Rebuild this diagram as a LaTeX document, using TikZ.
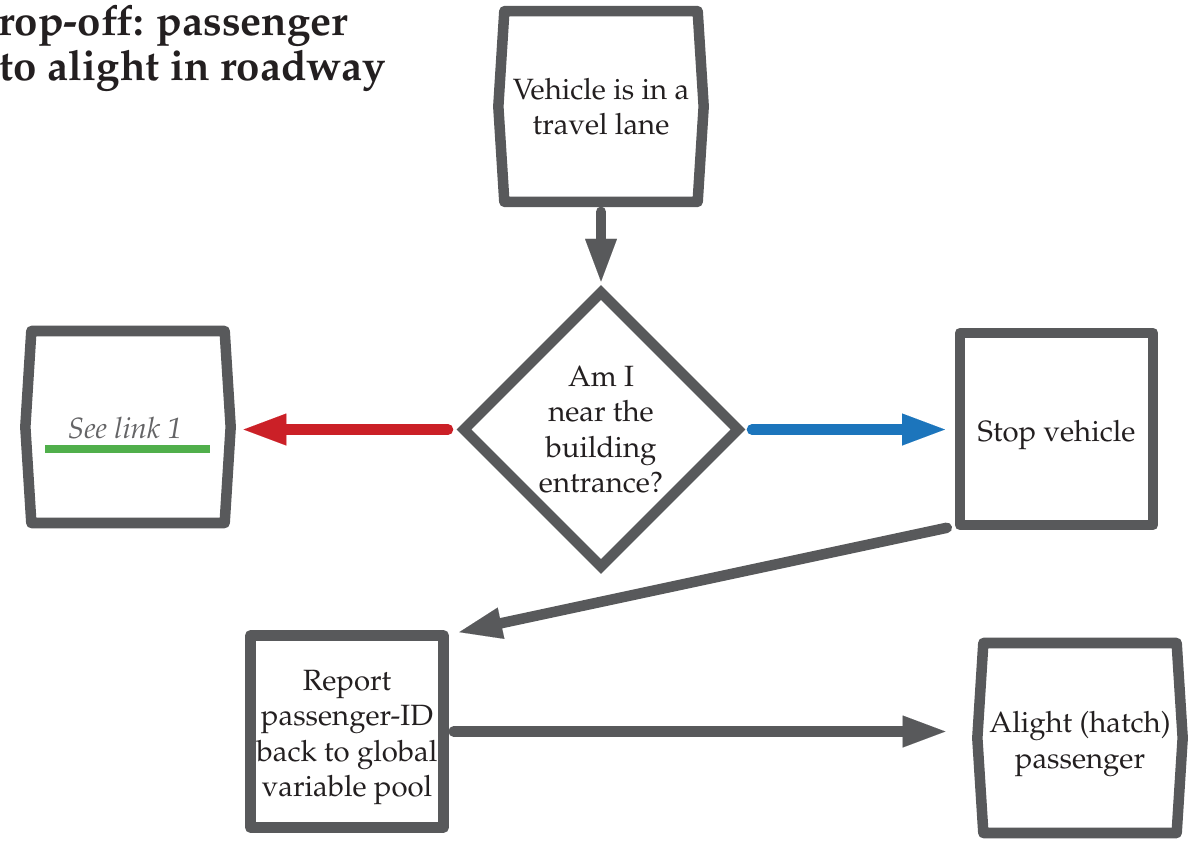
\documentclass[tikz,border=0pt]{standalone}
\usepackage[T1]{fontenc}
\usepackage{mathpazo}
\usetikzlibrary{shapes.geometric,arrows.meta,calc}
\definecolor{ink}{RGB}{35,31,32}
\definecolor{edgegrey}{RGB}{88,89,91}
\definecolor{linkred}{RGB}{203,32,39}
\definecolor{linkblue}{RGB}{28,117,188}
\definecolor{linkgreen}{RGB}{80,175,75}
\definecolor{linkgrey}{RGB}{100,100,102}
\tikzset{
  every node/.style={inner sep=0pt, outer sep=0pt, text=ink, align=center,
    font=\fontsize{22}{26.5}\selectfont},
  boxline/.style={draw=edgegrey, line width=7.9pt, line join=round},
  stepbox/.style={rectangle, minimum width=145pt, minimum height=144pt},
  plainbox/.style={stepbox, boxline},
  lowtext/.style={label={[yshift=-4.5pt]center:{#1}}},
  choice/.style={diamond, aspect=1, minimum width=205.5pt, minimum height=205.5pt,
    draw=edgegrey, line width=7.9pt, line join=miter},
  flow/.style={draw=edgegrey, line width=7.9pt, line cap=round,
    -{Triangle[length=32pt,width=24pt,line width=0.01pt]}},
  titletext/.style={font=\fontsize{31.5}{36}\selectfont\bfseries, anchor=base east},
}
\newcommand{\bulgeoutline}[1]{%
  \draw[boxline] (#1.north west) -- ([xshift=-4.5pt]#1.west) -- (#1.south west)
    -- (#1.south east) -- ([xshift=4.5pt]#1.east) -- (#1.north east) -- cycle;}
\begin{document}
\begin{tikzpicture}[x=0.75pt,y=-0.75pt]
\useasboundingbox (0,0) rectangle (1189,840);

% title (cut off at the left edge)
\node[titletext] (t1) at (348,35) {rop-off: passenger};
\node[titletext] (t2) at (386,80) {to alight in roadway};

% nodes
\node[stepbox, minimum height=143pt] (lane) at (601,106.5) {Vehicle is in a\\travel lane};
\bulgeoutline{lane}

\node[choice] (near) at (601,429.5) {Am I\\near the\\building\\entrance?};

\node[stepbox] (seelink) at (128,427) {};
\bulgeoutline{seelink}
\node[anchor=base, text=linkgrey, font=\fontsize{22}{26.5}\selectfont\itshape] (seetext) at (125,438) {See link 1};
\draw[linkgreen, line width=6pt] (45,449) -- (210,449);

\node[plainbox, lowtext={Stop vehicle}] (stop) at (1056.5,429) {};

\node[plainbox, lowtext={Report\\passenger-ID\\back to global\\variable pool}] (report) at (347,731.5) {};

\node[stepbox, minimum height=142.5pt, lowtext={Alight (hatch)\\passenger}] (alight) at (1080,738) {};
\bulgeoutline{alight}

% connectors
\coordinate (redend) at (near.west -| seelink.east);
\coordinate (blueend) at (near.east -| stop.west);
\coordinate (alightin) at (report.east -| alight.west);
\draw[flow, shorten <=7.5pt, shorten >=8.25pt] (lane.south) -- (near.north);
\draw[flow, draw=linkred, shorten <=12pt, shorten >=14.25pt] (near.west) -- (redend);
\draw[flow, draw=linkblue, shorten <=10.5pt, shorten >=11.25pt] (near.east) -- (blueend);
\draw[flow, shorten <=10pt, shorten >=12pt] (stop.south west) -- (report.north east);
\draw[flow, shorten <=7.5pt, shorten >=28.5pt] (report.east) -- (alightin);
\end{tikzpicture}
\end{document}
